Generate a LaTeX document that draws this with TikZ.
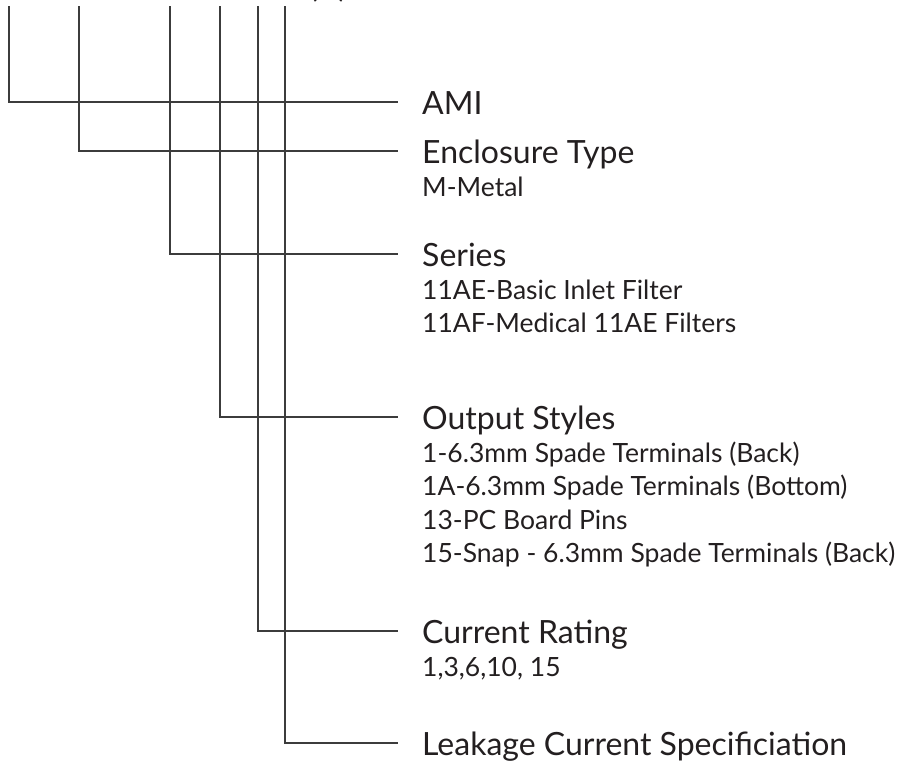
\documentclass[tikz,border=0pt]{standalone}
\usepackage{fontspec}
\setmainfont{Lato}
\definecolor{ink}{HTML}{231F20}
\definecolor{rule}{HTML}{3C3C3C}
\tikzset{
  wire/.style={draw=rule, line width=1.5pt},
  head/.style={anchor=base west, inner sep=0pt, text=ink, font=\fontsize{32}{38}\selectfont},
  sub/.style={anchor=base west, inner sep=0pt, text=ink, font=\fontsize{26.5}{32}\selectfont},
}
\begin{document}
\begin{tikzpicture}[x=1pt,y=-1pt]
\useasboundingbox (0,0) rectangle (903,763);
\clip (0,0) rectangle (903,763);
% cut-off title
\node[head] (title) at (309,-3) {(X)};
% tops of the vertical lines
\coordinate (t1) at (9,6);
\coordinate (t2) at (79,6);
\coordinate (t3) at (170,6);
\coordinate (t4) at (220,6);
\coordinate (t5) at (258,6);
\coordinate (t6) at (285,6);
% ends of the horizontal lines
\coordinate (e1) at (398,102);
\coordinate (e2) at (398,151);
\coordinate (e3) at (398,254);
\coordinate (e4) at (398,417);
\coordinate (e5) at (398,631);
\coordinate (e6) at (398,743);
% headings and their items
\node[head] (h1) at (422,114) {AMI};
\node[head] (h2) at (422,163) {Enclosure Type};
\node[sub]  (s21) at (422,196) {M-Metal};
\node[head] (h3) at (422,266) {Series};
\node[sub]  (s31) at (422,299) {11AE-Basic Inlet Filter};
\node[sub]  (s32) at (422,332.5) {11AF-Medical 11AE Filters};
\node[head] (h4) at (422,429) {Output Styles};
\node[sub]  (s41) at (422,462) {1-6.3mm Spade Terminals (Back)};
\node[sub]  (s42) at (422,495.5) {1A-6.3mm Spade Terminals (Bottom)};
\node[sub]  (s43) at (422,529) {13-PC Board Pins};
\node[sub]  (s44) at (422,562.5) {15-Snap - 6.3mm Spade Terminals (Back)};
\node[head] (h5) at (422,643) {Current Rating};
\node[sub]  (s51) at (422,676) {1,3,6,10, 15};
\node[head] (h6) at (422,755) {Leakage Current Specificiation};
% connectors
\draw[wire] (t1) |- (e1);
\draw[wire] (t2) |- (e2);
\draw[wire] (t3) |- (e3);
\draw[wire] (t4) |- (e4);
\draw[wire] (t5) |- (e5);
\draw[wire] (t6) |- (e6);
\end{tikzpicture}
\end{document}
